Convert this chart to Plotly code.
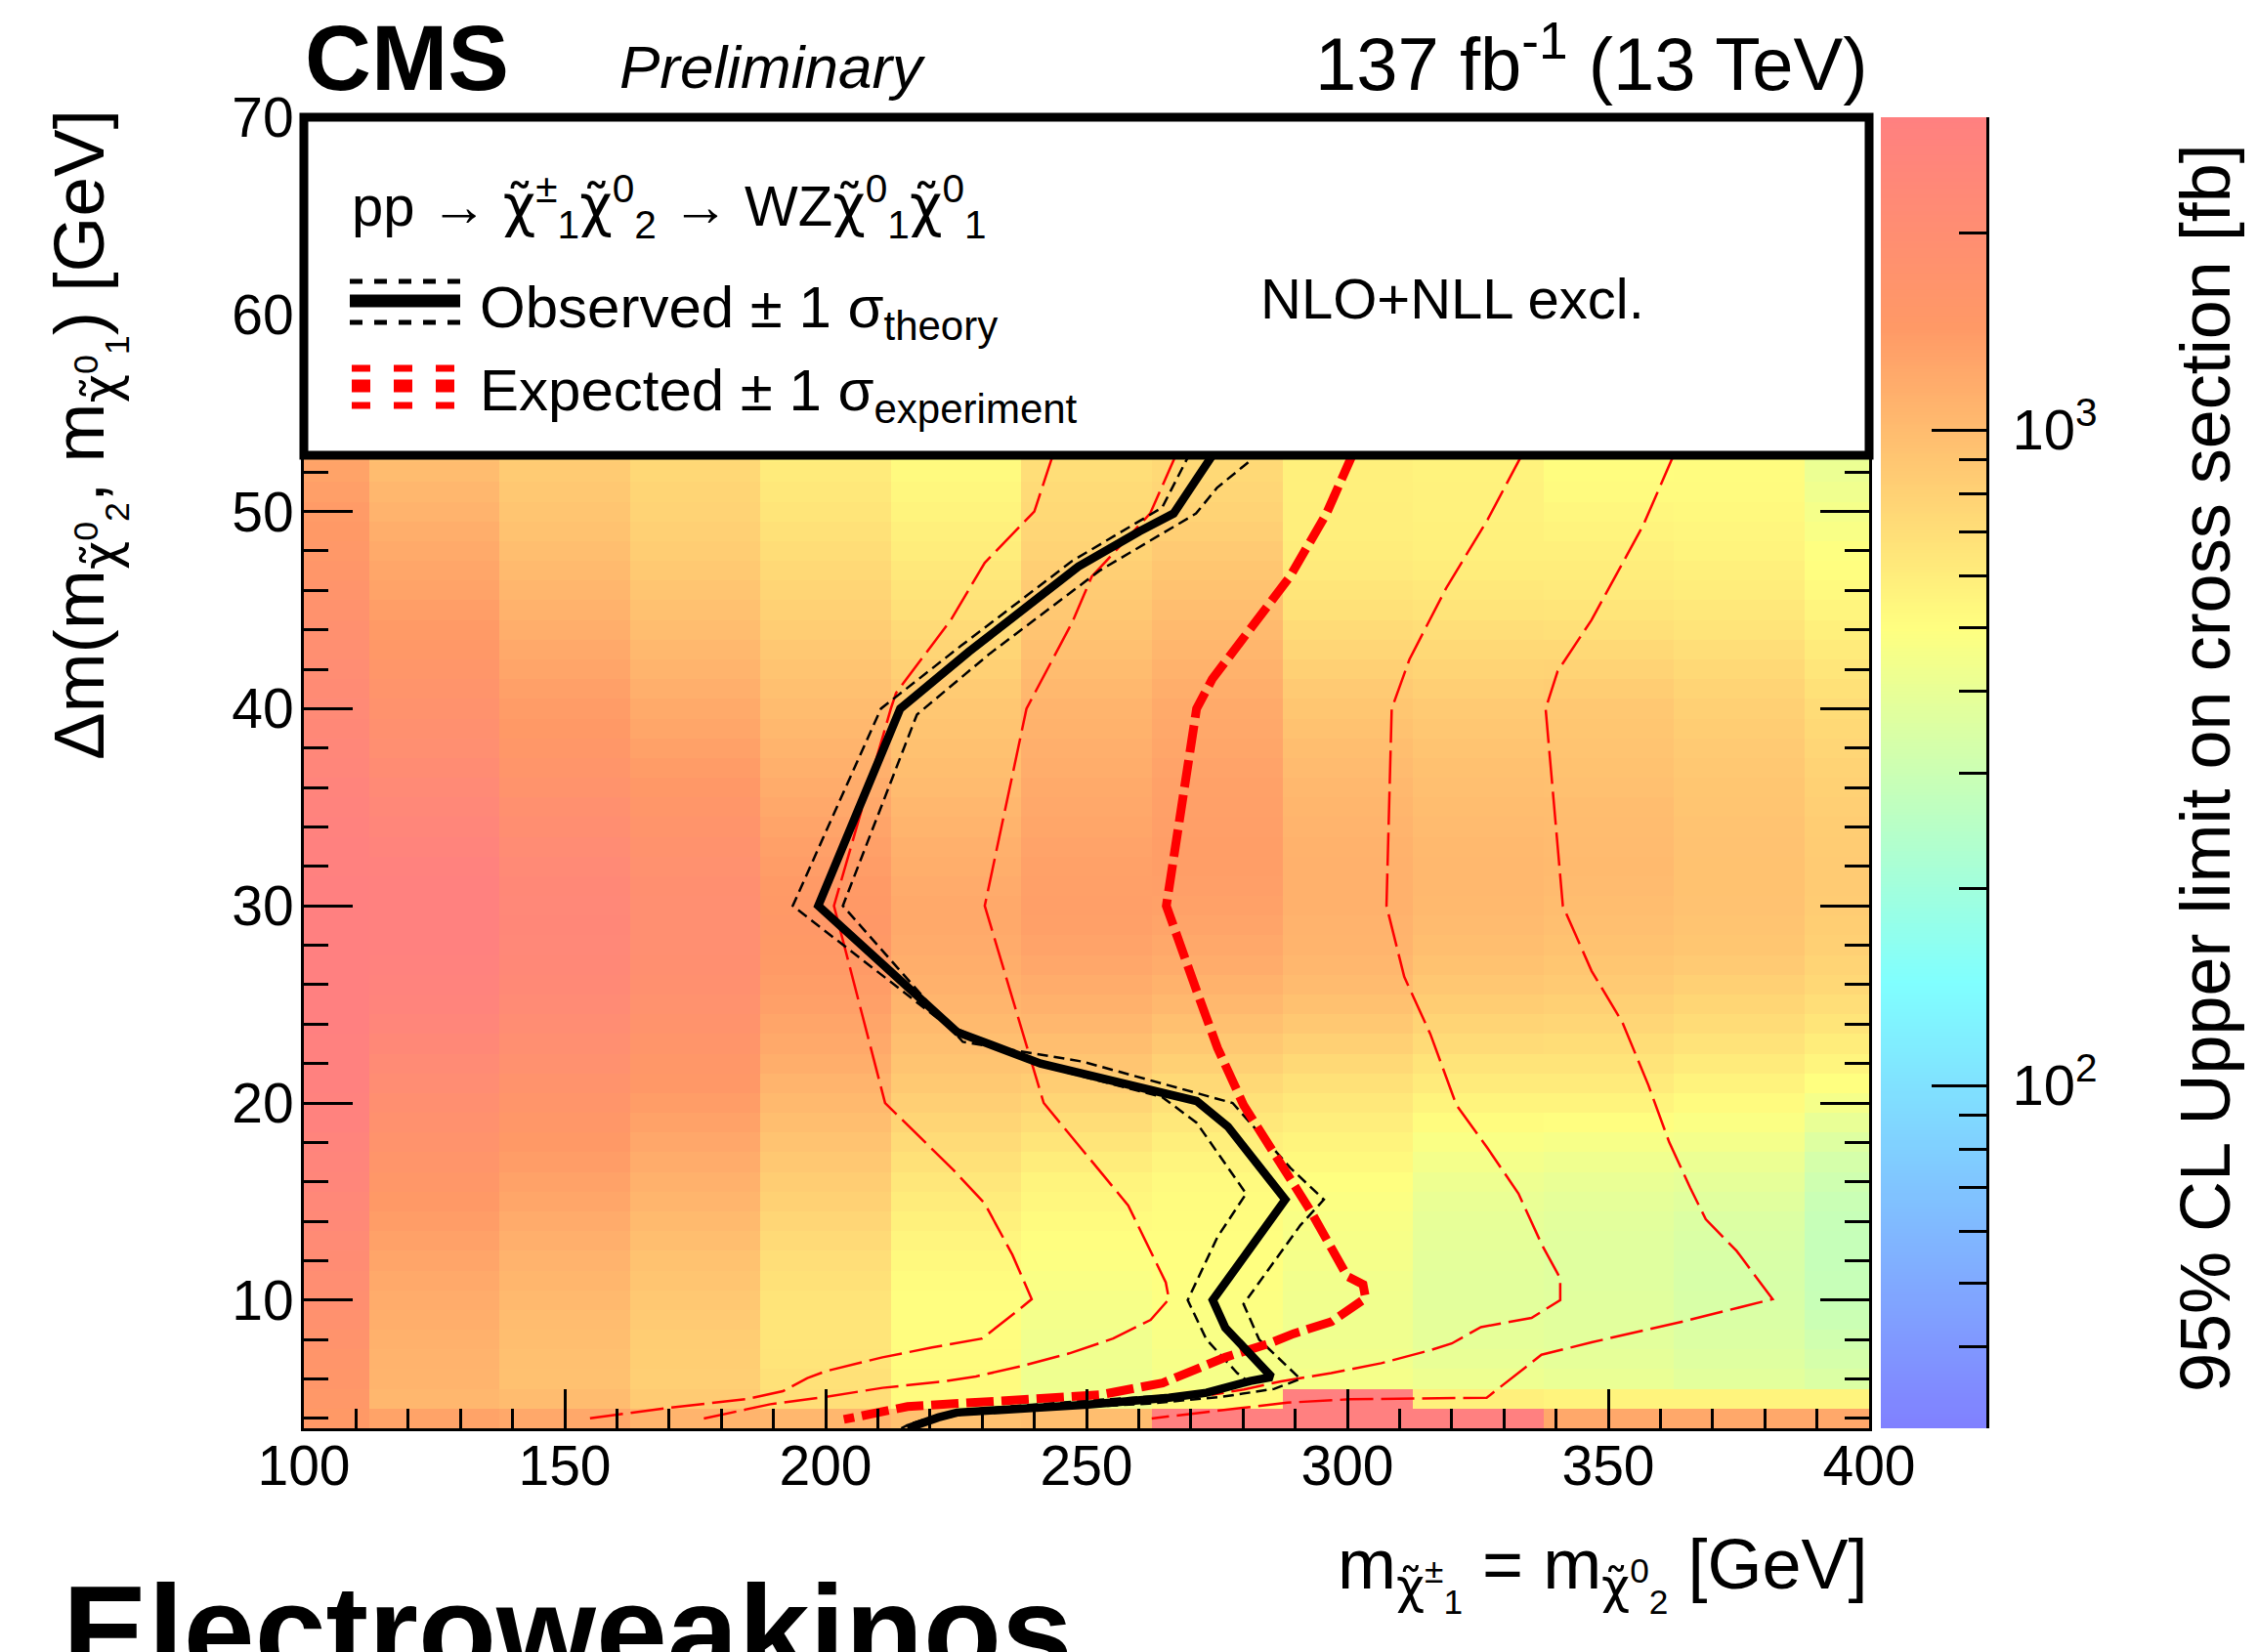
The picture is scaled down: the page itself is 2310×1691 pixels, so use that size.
import numpy as np
import plotly.graph_objects as go

FONT = "Liberation Sans, Arial, Helvetica, sans-serif"

# ---------------- data ----------------
mass_cols = [100, 125, 150, 175, 200, 225, 250, 275, 300, 325, 350, 375, 400]
dm_rows = list(range(4, 54))  # Delta m bins (1 GeV wide)

# 95% CL upper limits [fb] per mass column, for dm = 4 ... 53
ul_m100 = [1450, 1500, 1550, 1600, 1700, 1800, 1900, 2000, 2100, 2200, 2300, 2400, 2500, 2600, 2700, 2800, 2850, 2900, 2950, 2950,
           3000, 3000, 3000, 3000, 3000, 3000, 3000, 3000, 2950, 2900, 2850, 2750, 2650, 2550, 2450, 2350, 2250, 2150, 2050, 1950,
           1850, 1750, 1650, 1580, 1500, 1450, 1400, 1350, 1300, 1250]
ul_m125 = [1300, 1050, 1080, 1100, 1120, 1150, 1180, 1220, 1270, 1320, 1380, 1450, 1520, 1600, 1700, 1800, 1900, 2050, 2200, 2350,
           2500, 2650, 2750, 2850, 2900, 2950, 2950, 2900, 2800, 2700, 2550, 2400, 2250, 2100, 1950, 1850, 1750, 1650, 1550, 1480,
           1420, 1360, 1300, 1250, 1200, 1150, 1100, 1050, 1000, 960]
ul_m150 = [1230, 1000, 950, 960, 980, 1000, 1030, 1060, 1100, 1140, 1190, 1250, 1310, 1380, 1450, 1530, 1620, 1720, 1830, 1950,
           2070, 2180, 2280, 2350, 2400, 2420, 2400, 2350, 2250, 2120, 1980, 1850, 1720, 1620, 1530, 1450, 1390, 1330, 1270, 1210,
           1160, 1110, 1060, 1020, 980, 940, 910, 880, 850, 830]
ul_m175 = [1080, 850, 820, 830, 840, 860, 880, 910, 940, 980, 1020, 1070, 1120, 1180, 1240, 1310, 1380, 1460, 1540, 1620,
           1700, 1780, 1850, 1900, 1940, 1950, 1940, 1900, 1830, 1740, 1640, 1550, 1460, 1390, 1320, 1260, 1200, 1140, 1090, 1040,
           990, 950, 910, 870, 840, 810, 790, 770, 750, 730]
ul_m200 = [1050, 700, 680, 660, 650, 650, 660, 680, 700, 730, 760, 800, 840, 880, 930, 980, 1030, 1090, 1150, 1210,
           1270, 1330, 1380, 1420, 1450, 1460, 1450, 1420, 1380, 1330, 1280, 1230, 1180, 1130, 1080, 1040, 1000, 960, 920, 880,
           840, 800, 770, 740, 710, 680, 650, 630, 610, 590]
ul_m225 = [950, 520, 520, 515, 510, 505, 505, 515, 530, 550, 575, 605, 640, 680, 720, 770, 820, 870, 920, 970,
           1020, 1070, 1120, 1160, 1190, 1210, 1210, 1190, 1160, 1130, 1090, 1050, 1010, 980, 950, 920, 890, 850, 810, 770,
           730, 690, 660, 630, 600, 580, 560, 540, 525, 515]
ul_m250 = [980, 430, 425, 430, 435, 445, 460, 475, 490, 505, 520, 540, 560, 600, 650, 710, 770, 840, 910, 980,
           1050, 1120, 1180, 1240, 1290, 1330, 1350, 1340, 1320, 1290, 1260, 1230, 1200, 1170, 1140, 1110, 1080, 1040, 1000, 960,
           920, 880, 850, 820, 790, 760, 740, 720, 700, 690]
ul_m275 = [3000, 520, 455, 460, 470, 480, 490, 495, 500, 505, 510, 515, 525, 550, 590, 630, 680, 740, 810, 880,
           960, 1040, 1110, 1180, 1230, 1280, 1320, 1350, 1360, 1360, 1350, 1340, 1320, 1290, 1260, 1230, 1200, 1150, 1110, 1060,
           1020, 980, 940, 900, 860, 820, 790, 760, 740, 720]
ul_m300 = [3000, 3000, 450, 440, 430, 430, 435, 440, 450, 460, 470, 485, 500, 530, 560, 595, 630, 680, 740, 810,
           880, 950, 1010, 1050, 1080, 1100, 1115, 1120, 1120, 1110, 1090, 1065, 1040, 1010, 980, 940, 900, 860, 810, 760,
           720, 680, 650, 620, 600, 590, 585, 580, 580, 575]
ul_m325 = [3000, 580, 420, 400, 390, 385, 380, 380, 382, 388, 395, 405, 420, 445, 475, 515, 560, 610, 660, 720,
           780, 840, 890, 940, 980, 1010, 1030, 1040, 1040, 1030, 1010, 990, 970, 950, 920, 890, 860, 820, 780, 740,
           700, 660, 630, 600, 580, 575, 570, 570, 565, 560]
ul_m350 = [1230, 560, 405, 390, 380, 375, 370, 368, 368, 372, 380, 390, 405, 430, 460, 505, 560, 610, 660, 710,
           760, 810, 860, 900, 940, 970, 990, 1010, 1020, 1010, 1000, 985, 960, 940, 920, 900, 880, 840, 790, 740,
           690, 650, 620, 600, 580, 560, 540, 520, 510, 500]
ul_m375 = [1230, 560, 380, 365, 353, 345, 340, 338, 339, 345, 355, 370, 390, 415, 445, 480, 520, 565, 615, 665,
           715, 765, 810, 860, 900, 920, 935, 940, 940, 935, 925, 910, 900, 880, 860, 835, 810, 775, 740, 700,
           660, 630, 600, 580, 560, 545, 530, 520, 515, 510]
ul_m400 = [1230, 560, 350, 330, 314, 300, 292, 288, 285, 285, 288, 295, 310, 330, 360, 400, 450, 500, 550, 600,
           650, 700, 745, 780, 810, 830, 845, 850, 850, 845, 835, 820, 805, 785, 760, 740, 715, 680, 645, 610,
           580, 550, 525, 505, 495, 470, 450, 430, 415, 405]

# contours (m [GeV], dm [GeV])
obs_m = [274.5, 266.7, 260.2, 248.4, 227.5, 214.3, 198.6, 225.2, 241.2, 271.1, 277.1, 288.1, 274.2, 276.6, 285.5, 281.4,
         273.0, 265.8, 250.3, 225.2, 221.6, 215.7]
obs_dm = [53.0, 49.9, 49.0, 47.2, 42.9, 40.0, 30.0, 23.6, 22.0, 20.1, 18.8, 15.1, 10.0, 8.6, 6.1, 5.9,
          5.3, 5.05, 4.7, 4.3, 4.05, 3.5]
obs_up_m = [281.0, 275.0, 271.0, 252.5, 231.5, 217.5, 203.3, 226.3, 249.2, 278.0, 289.1, 295.5, 291.0, 280.1, 283.1, 291.0,
            286.0, 276.0, 262.0, 240.0, 226.0, 219.0, 217.0]
obs_up_dm = [52.5, 51.2, 49.9, 47.0, 42.8, 39.7, 30.0, 23.1, 22.1, 20.0, 16.7, 15.1, 13.8, 9.8, 8.0, 6.0,
             5.5, 5.1, 4.75, 4.45, 4.2, 3.8, 3.5]
obs_dn_m = [269.9, 264.5, 247.3, 226.0, 210.6, 193.7, 222.4, 239.7, 264.5, 271.1, 280.6, 275.1, 269.4, 273.0, 278.9, 280.8,
            276.0, 268.0, 250.0, 230.0, 222.0, 216.0, 214.5]
obs_dn_dm = [53.0, 50.2, 47.5, 43.2, 40.0, 30.0, 24.1, 22.0, 20.3, 19.0, 15.4, 13.2, 10.0, 8.0, 6.3, 5.9,
             5.5, 5.2, 4.9, 4.5, 4.2, 3.7, 3.5]
exp_m = [301.0, 296.0, 289.0, 280.0, 274.1, 271.1, 265.3, 271.1, 275.1, 280.1, 287.1, 293.0, 300.0, 303.0, 303.5, 296.9,
         289.7, 285.0, 276.6, 269.4, 264.6, 252.7, 244.3, 230.0, 215.7, 203.5]
exp_dm = [52.9, 49.9, 46.7, 43.5, 41.5, 40.0, 30.0, 25.7, 22.8, 19.9, 17.0, 14.5, 11.2, 10.8, 10.1, 8.9,
          8.3, 7.8, 7.1, 6.3, 5.8, 5.2, 5.05, 4.9, 4.6, 3.95]
exp_m1_m = [267.2, 262.2, 251.0, 247.3, 238.5, 230.5, 241.8, 258.0, 265.2, 265.8, 262.3, 255.1, 246.7, 237.2, 228.8, 222.8,
            210.9, 198.9, 189.4, 176.2]
exp_m1_dm = [52.9, 49.9, 46.7, 44.4, 40.0, 30.0, 20.0, 14.8, 10.9, 10.05, 9.0, 8.05, 7.3, 6.63, 6.13, 5.88,
             5.55, 5.05, 4.72, 3.97]
exp_m2_m = [243.6, 240.0, 230.5, 224.0, 213.5, 212.5, 201.6, 211.4, 224.5, 230.5, 235.8, 239.5, 237.2, 230.0, 220.4, 210.9,
            200.1, 196.5, 191.8, 184.6, 170.3, 154.7]
exp_m2_dm = [52.9, 50.0, 47.4, 44.5, 40.8, 40.0, 30.0, 20.0, 16.6, 14.9, 12.3, 10.05, 9.55, 8.05, 7.6, 7.1,
             6.4, 6.05, 5.38, 4.97, 4.55, 4.0]
exp_p1_m = [333.5, 326.9, 318.9, 311.9, 308.5, 307.5, 310.9, 315.9, 320.9, 326.9, 332.8, 337.3, 340.8, 340.8, 335.3, 325.6,
            320.0, 316.0, 306.5, 296.9, 287.3, 280.2, 274.0]
exp_p1_dm = [52.9, 49.6, 46.1, 42.5, 40.0, 30.0, 26.4, 23.5, 19.9, 17.7, 15.4, 12.8, 11.1, 10.0, 9.1, 8.63,
             7.8, 7.47, 6.8, 6.3, 5.88, 5.47, 5.2]
exp_p2_m = [362.6, 356.7, 346.8, 340.3, 338.0, 341.3, 346.8, 352.7, 357.7, 361.7, 365.7, 368.7, 374.6, 381.5, 365.0, 346.8,
            337.2, 330.9, 326.7, 300.5, 288.5, 262.5]
exp_p2_dm = [52.9, 49.3, 44.5, 41.9, 40.0, 30.0, 26.7, 24.1, 20.9, 18.0, 15.7, 14.1, 12.5, 10.05, 8.96, 7.86,
             7.23, 5.93, 5.05, 4.97, 4.8, 4.0]

# colour scale range [fb]
z_lo, z_hi = 30.0, 3000.0
cb_major = [100, 1000]
cb_major_text = ["10<sup>2</sup>", "10<sup>3</sup>"]
cb_minor = [40, 50, 60, 70, 80, 90, 200, 300, 400, 500, 600, 700, 800, 900, 2000, 3000]

# ---------------- build ----------------
columns = [ul_m100, ul_m125, ul_m150, ul_m175, ul_m200, ul_m225, ul_m250, ul_m275,
           ul_m300, ul_m325, ul_m350, ul_m375, ul_m400]
z = np.log10(np.array(columns, dtype=float).T)  # rows = dm, cols = mass

cscale = [[0.00, "rgb(128,128,255)"], [0.34, "rgb(128,255,255)"], [0.61, "rgb(255,255,128)"],
          [0.84, "rgb(255,153,102)"], [1.00, "rgb(255,128,128)"]]
zmin, zmax = np.log10(z_lo), np.log10(z_hi)

fig = go.Figure()
fig.add_trace(go.Heatmap(x=mass_cols, y=dm_rows, z=z, colorscale=cscale, zmin=zmin, zmax=zmax,
                         showscale=False, hoverinfo="skip", xaxis="x", yaxis="y"))

# colour bar drawn on its own log axis
cb_levels = np.logspace(zmin, zmax, 400)
fig.add_trace(go.Heatmap(x=[0, 1], y=cb_levels, z=np.log10(cb_levels)[:, None], colorscale=cscale,
                         zmin=zmin, zmax=zmax, showscale=False, hoverinfo="skip", xaxis="x2", yaxis="y2"))

RED = "rgb(255,0,0)"
def line(xs, ys, color, width, dash):
    fig.add_trace(go.Scatter(x=xs, y=ys, mode="lines", line=dict(color=color, width=width, dash=dash),
                             hoverinfo="skip", xaxis="x", yaxis="y"))

thin_dash = "34px,8px"
line(exp_m2_m, exp_m2_dm, RED, 2.5, thin_dash)
line(exp_m1_m, exp_m1_dm, RED, 2.5, thin_dash)
line(exp_p1_m, exp_p1_dm, RED, 2.5, thin_dash)
line(exp_p2_m, exp_p2_dm, RED, 2.5, thin_dash)
line(obs_up_m, obs_up_dm, "black", 2.5, "11px,6px")
line(obs_dn_m, obs_dn_dm, "black", 2.5, "11px,6px")
line(exp_m, exp_dm, RED, 9, "28px,8px")
line(obs_m, obs_dm, "black", 8.5, "solid")

# ---------------- layout ----------------
L, R, T, B = 311, 277, 120, 229
W, H = 2310, 1691
PW, PH = W - L - R, H - T - B
def px(xp):
    return (xp - L) / PW
def py(yp):
    return (H - B - yp) / PH

main_right = px(1913)
axis_common = dict(showgrid=False, zeroline=False, showline=True, linecolor="black", linewidth=3,
                   ticks="inside", tickcolor="black", tickwidth=3,
                   tickfont=dict(family=FONT, size=57, color="black"))
fig.update_layout(
    width=W, height=H, margin=dict(l=L, r=R, t=T, b=B),
    paper_bgcolor="white", plot_bgcolor="white", showlegend=False,
    font=dict(family=FONT, color="black"),
    xaxis=dict(domain=[0, main_right], range=[100, 400], tickvals=[100, 150, 200, 250, 300, 350, 400],
               ticklen=40, mirror="allticks", ticklabelstandoff=-13,
               minor=dict(dtick=10, tick0=100, ticklen=20, ticks="inside", tickcolor="black", tickwidth=3),
               **axis_common),
    yaxis=dict(domain=[0, 1], range=[3.5, 70], tickvals=[10, 20, 30, 40, 50, 60, 70],
               ticklen=50, mirror="allticks", ticklabelstandoff=-4,
               minor=dict(dtick=2, tick0=0, ticklen=25, ticks="inside", tickcolor="black", tickwidth=3),
               **axis_common),
    xaxis2=dict(domain=[px(1925), 1.0], range=[0, 1], visible=False, anchor="y2"),
    yaxis2=dict(domain=[0, 1], anchor="x2", type="log", range=[zmin, zmax], side="right",
                showgrid=False, zeroline=False, showline=True, linecolor="black", linewidth=3,
                ticks="inside", tickcolor="black", tickwidth=3, ticklen=56, ticklabelstandoff=12,
                tickvals=cb_major, ticktext=cb_major_text,
                minor=dict(tickmode="array", tickvals=cb_minor, ticklen=28, ticks="inside",
                           tickcolor="black", tickwidth=3),
                tickfont=dict(family=FONT, size=58, color="black")),
)

# legend box
leg_bottom = py(466)
shapes = [dict(type="rect", xref="paper", yref="paper", x0=0, x1=main_right, y0=leg_bottom, y1=1.0,
               fillcolor="white", line=dict(color="black", width=9), layer="above")]
lx0, lx1 = px(358), px(471)
shapes += [
    dict(type="line", xref="paper", yref="paper", x0=lx0, x1=lx1, y0=py(288), y1=py(288),
         line=dict(color="black", width=5, dash="13px,12px"), layer="above"),
    dict(type="line", xref="paper", yref="paper", x0=lx0, x1=lx1, y0=py(308), y1=py(308),
         line=dict(color="black", width=13), layer="above"),
    dict(type="line", xref="paper", yref="paper", x0=lx0, x1=lx1, y0=py(330), y1=py(330),
         line=dict(color="black", width=5, dash="13px,12px"), layer="above"),
    dict(type="line", xref="paper", yref="paper", x0=px(360), x1=px(468), y0=py(377), y1=py(377),
         line=dict(color=RED, width=7, dash="19px,24px"), layer="above"),
    dict(type="line", xref="paper", yref="paper", x0=px(360), x1=px(468), y0=py(395), y1=py(395),
         line=dict(color=RED, width=13, dash="19px,24px"), layer="above"),
    dict(type="line", xref="paper", yref="paper", x0=px(360), x1=px(468), y0=py(415), y1=py(415),
         line=dict(color=RED, width=7, dash="19px,24px"), layer="above"),
]
fig.update_layout(shapes=shapes)

chi = "<span style='font-family:DejaVu Sans'>\u03c7\u0303</span>"
def ann(text, x, y, size, xanchor="left", yanchor="bottom", angle=0, bold=False, italic=False):
    if bold:
        text = "<b>" + text + "</b>"
    if italic:
        text = "<i>" + text + "</i>"
    fig.add_annotation(text=text, x=x, y=y, xref="paper", yref="paper", xanchor=xanchor, yanchor=yanchor,
                       showarrow=False, textangle=angle, font=dict(family=FONT, size=size, color="black"))

def base(yb, size, sub=False):
    off = 0.212 * size + 1 + (0.3 * size if sub else 0)
    return py(yb + off)

ann("CMS", px(310), base(93, 94), 94, bold=True)
ann("Preliminary", px(632), base(91, 62), 62, italic=True)
ann("137 fb<sup>-1</sup> (13 TeV)", px(1914), base(93, 76), 76, xanchor="right")

ann("pp \u2192 " + chi + "<sup>\u00b1</sup><sub>1</sub>" + chi + "<sup>0</sup><sub>2</sub> \u2192 WZ"
    + chi + "<sup>0</sup><sub>1</sub>" + chi + "<sup>0</sup><sub>1</sub>", px(358), base(224, 58, True), 58)
ann("Observed \u00b1 1 \u03c3<sub>theory</sub>", px(489), base(327, 60, True), 60)
ann("NLO+NLL excl.", px(1288), base(327, 58), 58)
ann("Expected \u00b1 1 \u03c3<sub>experiment</sub>", px(489), base(412, 60, True), 60)

ann("m<sub>" + chi + "<sup>\u00b1</sup><sub>1</sub></sub> = m<sub>" + chi + "<sup>0</sup><sub>2</sub></sub> [GeV]",
    px(1914), py(1559), 72, xanchor="right", yanchor="top")
ann("\u0394m(m<sub>" + chi + "<sup>0</sup><sub>2</sub></sub>, m<sub>" + chi + "<sup>0</sup><sub>1</sub></sub>) [GeV]",
    px(38), py(110), 73, xanchor="left", yanchor="top", angle=-90)
ann("95% CL Upper limit on cross section [fb]", px(2215), py(145), 72, xanchor="left", yanchor="top", angle=-90)
ann("Electroweakinos", px(62), py(1594), 131, xanchor="left", yanchor="top", bold=True)

fig.write_html("out.html")
